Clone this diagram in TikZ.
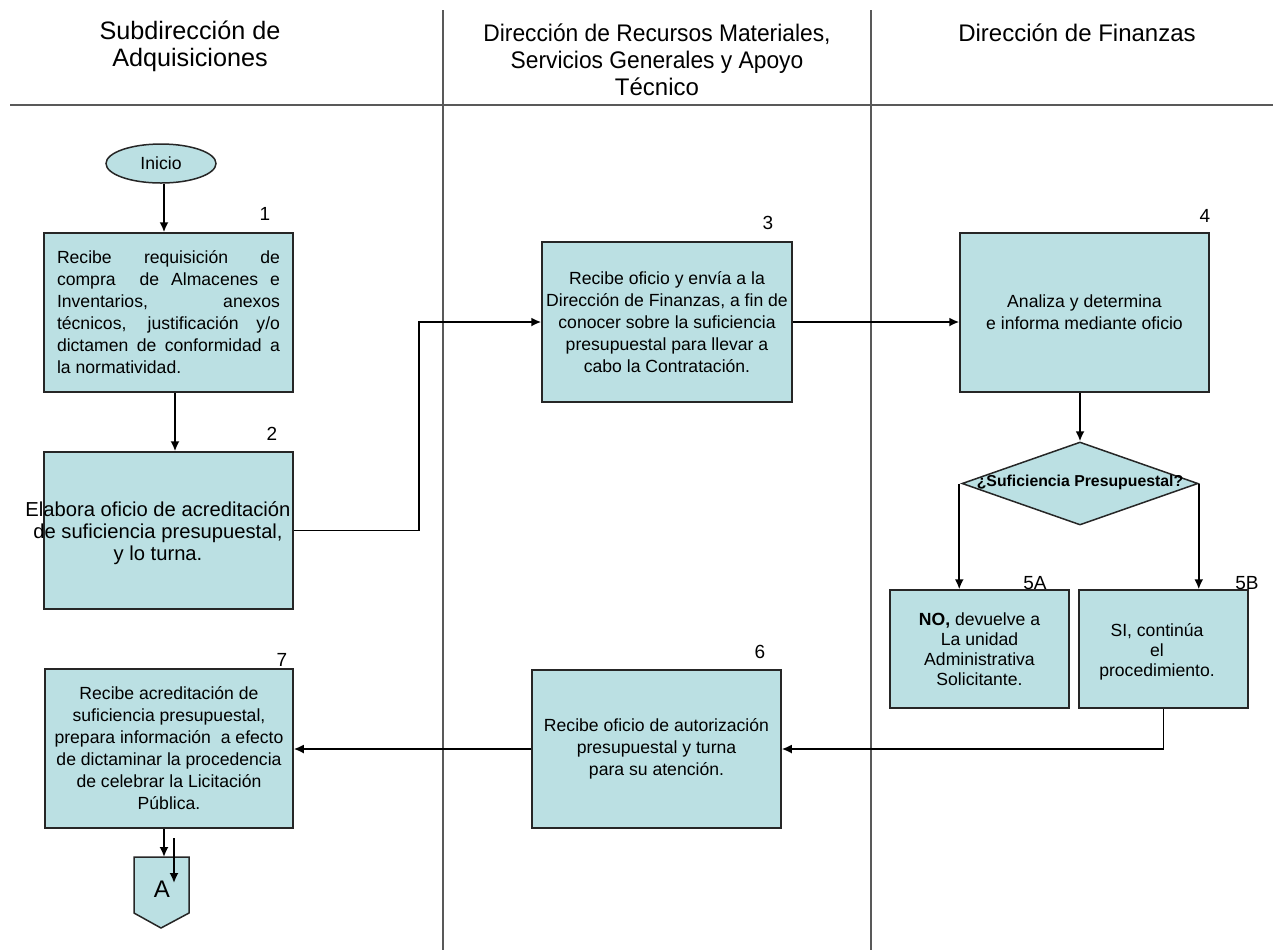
\documentclass[tikz,border=0pt]{standalone}
\usepackage{fontspec}
\setmainfont{Liberation Sans}
\usetikzlibrary{arrows.meta,shapes.geometric}
\definecolor{boxfill}{RGB}{187,224,227}
\begin{document}
\begin{tikzpicture}[x=0.5pt,y=-0.5pt,
  every node/.style={font=\fontsize{8.8}{11}\selectfont},
  boxbase/.style={draw=black!85, fill=boxfill, line width=0.75pt, inner sep=0pt},
  stepbox/.style={boxbase, align=center},
  arr/.style={-{Latex[length=5pt,width=4.5pt]}, line width=0.9pt},
  lane/.style={draw=black!65, line width=1pt},
  num/.style={font=\fontsize{9.5}{11}\selectfont},
  head/.style={font=\fontsize{12}{13.5}\selectfont, align=center}]
\useasboundingbox (0,0) rectangle (1275,950);

% swimlane frame
\draw[lane] (10,105) -- (1273,105);
\draw[lane] (443,10) -- (443,950);
\draw[lane] (871,10) -- (871,950);

% lane headings
\node[head, font=\fontsize{12.6}{13.5}\selectfont] (h1) at (190,46.5) {Subdirección de\\Adquisiciones};
\node[head] (h2) at (657,60) {\scalebox{0.95}[1]{Dirección de Recursos Materiales,}\\\scalebox{0.95}[1]{Servicios Generales y Apoyo}\\Técnico};
\node[head] (h3) at (1077,33) {Dirección de Finanzas};

% start
\node[boxbase, ellipse, minimum width=55pt, minimum height=19.5pt] (ini) at (161,163.5) {Inicio};

% steps
\node[boxbase, minimum width=124.5pt, minimum height=79.5pt] (b1) at (168.5,312.5)
  {\parbox{111.5pt}{Recibe requisición de\linebreak
   compra \ de Almacenes e\linebreak
   Inventarios, anexos\linebreak
   técnicos, justificación y/o\linebreak
   dictamen de conformidad a\linebreak
   la normatividad.}};
\node[boxbase, minimum width=124.5pt, minimum height=78.5pt] (b2) at (168.5,530.5) {};
\node[align=center, font=\fontsize{10.1}{11}\selectfont] (b2t) at (158,533)
  {Elabora oficio de acreditación\\de suficiencia presupuestal,\\y lo turna.};
\node[stepbox, minimum width=125pt, minimum height=80pt] (b3) at (667,322)
  {Recibe oficio y envía a la\\Dirección de Finanzas, a fin de\\conocer sobre la suficiencia\\presupuestal para llevar a\\cabo la Contratación.};
\node[stepbox, minimum width=124.5pt, minimum height=79.5pt] (b4) at (1084.5,312.5)
  {Analiza y determina\\e informa mediante oficio};
\node[boxbase, diamond, minimum width=118pt, minimum height=41.5pt] (dia) at (1080,483.5) {};
\node[font=\bfseries\fontsize{7.9}{9}\selectfont] (diat) at (1080,482) {¿Suficiencia Presupuestal?};
\node[stepbox, minimum width=89.5pt, minimum height=59pt, font=\fontsize{8.8}{10}\selectfont] (b5a) at (979.5,649)
  {\textbf{NO,} devuelve a\\La unidad\\Administrativa\\Solicitante.};
\node[boxbase, minimum width=84.5pt, minimum height=59pt] (b5b) at (1163.5,649) {};
\node[align=center, font=\fontsize{8.8}{10}\selectfont] (b5bt) at (1157,652)
  {SI, continúa\\el\\procedimiento.};
\node[stepbox, minimum width=124.5pt, minimum height=79pt] (b6) at (656.5,749)
  {Recibe oficio de autorización\\presupuestal y turna\\para su atención.};
\node[stepbox, minimum width=124pt, minimum height=79.5pt] (b7) at (169,748.5)
  {Recibe acreditación de\\suficiencia presupuestal,\\prepara información \ a efecto\\de dictaminar la procedencia\\de celebrar la Licitación\\Pública.};

% off-page connector
\draw[boxbase] (134,857) -- (189,857) -- (189,913) -- (161,928) -- (134,913) -- cycle;
\node[font=\fontsize{12}{13}\selectfont] (offA) at (162,889) {A};
\coordinate (offtop) at (164,857);
\coordinate (ins0) at (174,838);
\coordinate (ins1) at (174,883);

% step numbers
\node[num] (n1) at (265,214) {1};
\node[num] (n2) at (272,434) {2};
\node[num] (n3) at (768,223) {3};
\node[num] (n4) at (1205,216) {4};
\node[num] (n5a) at (1035,583) {5A};
\node[num] (n5b) at (1247,583) {5B};
\node[num] (n6) at (760,652) {6};
\node[num] (n7) at (282,660) {7};

% connectors
\draw[arr] ([xshift=1.5pt]ini.south) -- ([xshift=1.5pt]ini.south |- b1.north);
\draw[arr] ([xshift=3.25pt]b1.south) -- ([xshift=3.25pt]b2.north);
\draw[arr] (b2.east) -- ++(62.5pt,0) |- (b3.west);
\draw[arr] (b3.east) -- (b3.east -| b4.west);
\draw[arr] (b4.south -| dia.north) -- (dia.north);
\draw[arr] ([xshift=-1pt]dia.west) -- ([xshift=-1pt]dia.west |- b5a.north);
\draw[arr] (dia.east) -- (dia.east |- b5b.north);
\draw[arr] (b5b.south) |- (b6.east);
\draw[arr] (b6.west) -- (b6.west -| b7.east);
\draw[arr] (b7.south -| offtop) -- (offtop);
\draw[arr] (ins0) -- (ins1);
\end{tikzpicture}
\end{document}
